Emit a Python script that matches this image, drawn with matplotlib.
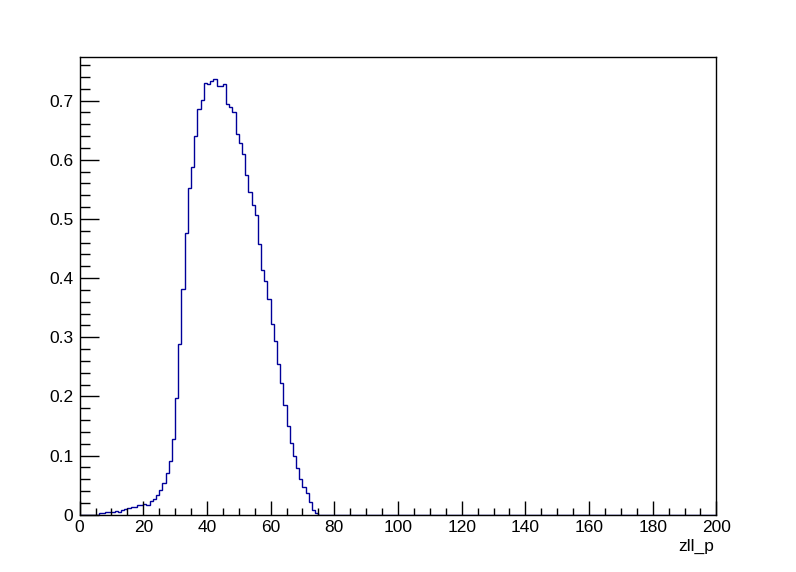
import numpy as np
from matplotlib import pyplot as plt
from matplotlib.ticker import MultipleLocator, FuncFormatter

plt.rcParams['font.family'] = ['Liberation Sans', 'DejaVu Sans']

# histogram zll_p: 200 bins of width 1 from 0 to 200
bin_edges = np.arange(0, 201, 1)
first_bin = 6
bin_values = [0.0028, 0.0028, 0.0045, 0.0045, 0.0045, 0.0060, 0.0045, 0.0079,
              0.0090, 0.0107, 0.0124, 0.0135, 0.0163, 0.0163, 0.0190, 0.0174,
              0.0230, 0.0270, 0.0340, 0.0420, 0.0530, 0.0700, 0.0905, 0.1280,
              0.1967, 0.2878, 0.3811, 0.4767, 0.5526, 0.5885, 0.6403, 0.6858,
              0.7010, 0.7296, 0.7279, 0.7330, 0.7364, 0.7246, 0.7246, 0.7279,
              0.6942, 0.6897, 0.6807, 0.6436, 0.6284, 0.6099, 0.5745, 0.5458,
              0.5239, 0.5070, 0.4581, 0.4143, 0.3952, 0.3654, 0.3221, 0.2945,
              0.2546, 0.2220, 0.1849, 0.1495, 0.1209, 0.0995, 0.0798, 0.0601,
              0.0467, 0.0365, 0.0219, 0.0084, 0.0028]
x_title = 'zll_p'

counts = np.zeros(len(bin_edges) - 1)
counts[first_bin:first_bin + len(bin_values)] = bin_values

fig = plt.figure(figsize=(7.96, 5.72), dpi=100)
fig.patch.set_facecolor('white')
ax = fig.add_axes([0.1, 0.1, 0.8, 0.8])

ax.stairs(counts, bin_edges, color='#000099', lw=1)

ax.set_xlim(0, 200)
ax.set_ylim(0, 1.05 * counts.max())

ax.xaxis.set_major_locator(MultipleLocator(20))
ax.xaxis.set_minor_locator(MultipleLocator(5))
ax.yaxis.set_major_locator(MultipleLocator(0.1))
ax.yaxis.set_minor_locator(MultipleLocator(0.02))
fmt = FuncFormatter(lambda v, p: '%g' % round(v, 3))
ax.xaxis.set_major_formatter(fmt)
ax.yaxis.set_major_formatter(fmt)

ax.tick_params(axis='both', which='both', direction='in', top=False, right=False,
               labelsize=12.5, width=1, color='black')
ax.tick_params(axis='x', which='major', length=10, pad=4)
ax.tick_params(axis='x', which='minor', length=5)
ax.tick_params(axis='y', which='major', length=13.7, pad=4.5)
ax.tick_params(axis='y', which='minor', length=6.9)

for sp in ax.spines.values():
    sp.set_linewidth(1)
    sp.set_color('black')

ax.text(0.996, -0.069, x_title, transform=ax.transAxes, ha='right', va='center', fontsize=12.5)

plt.savefig('out.png', dpi=100, facecolor='white')
plt.close()
